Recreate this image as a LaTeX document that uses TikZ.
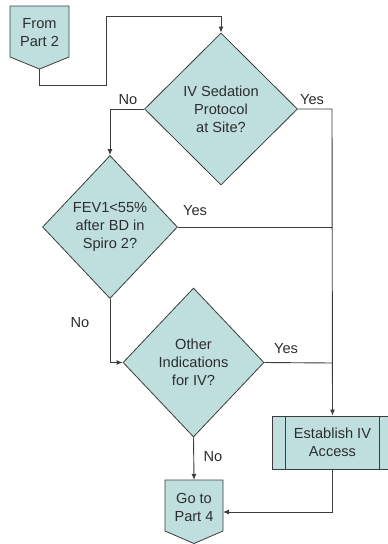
\documentclass[tikz,border=0pt]{standalone}
\usepackage{fontspec}
\setmainfont{Liberation Sans}
\usetikzlibrary{shapes.geometric,arrows.meta}
\definecolor{boxfill}{RGB}{191,223,222}
\definecolor{edgecol}{RGB}{60,60,60}
\definecolor{txtcol}{RGB}{45,45,45}
\tikzset{
  every node/.style={text=txtcol,font=\fontsize{14.6}{18}\selectfont,align=center},
  decision/.style={diamond,draw=edgecol,fill=boxfill,line width=0.8pt,inner sep=0pt},
  shapeline/.style={draw=edgecol,fill=boxfill,line width=0.8pt},
  flow/.style={draw=edgecol,line width=0.9pt},
  arrowflow/.style={flow,-{Latex[length=6pt,width=5pt]}},
  lbl/.style={inner sep=0pt}
}
\begin{document}
\begin{tikzpicture}[x=1pt,y=-1pt]
\useasboundingbox (0,0) rectangle (388,544);

% off-page connector: From Part 2
\path[shapeline] (10,6) -- (69,6) -- (69,57) -- (39.5,69) -- (10,57) -- cycle;
\node (from) at (39.5,33) {From\\Part 2};
\coordinate (fromtip) at (39.5,69);

% decisions
\node[decision,minimum width=153pt,minimum height=152pt] (d1) at (221,109) {IV Sedation\\Protocol\\at Site?};
\node[decision,minimum width=135pt,minimum height=143pt] (d2) at (110,227) {FEV1<55\%\\after BD in\\Spiro 2?};
\node[decision,minimum width=141pt,minimum height=149pt] (d3) at (193.5,362.5) {Other\\Indications\\for IV?};

% predefined process box
\node[shapeline,minimum width=121pt,minimum height=53pt,inner sep=0pt] (est) at (332.5,442.5) {Establish IV\\Access};
\draw[edgecol,line width=0.8pt] ([xshift=14pt]est.north west) -- ([xshift=14pt]est.south west);
\draw[edgecol,line width=0.8pt] ([xshift=-14pt]est.north east) -- ([xshift=-14pt]est.south east);

% off-page connector: Go to Part 4
\path[shapeline] (165,480) -- (223,480) -- (223,531) -- (194,543.5) -- (165,531) -- cycle;
\node (goto) at (194,507.5) {Go to\\Part 4};
\coordinate (gotonorth) at (194,480);
\coordinate (gotoeast) at (223,512);

% junction points on the right-hand trunk
\coordinate (jtop) at (332,109);
\coordinate (jmid) at (332,227);
\coordinate (jlow) at (332,363);

% connectors
\draw[arrowflow] (fromtip) -- (39.5,85) -- (106,85) -- (106,16) -- (221,16) -- (d1.north);
\draw[arrowflow] (d1.west) -- (110,109) -- (d2.north);
\draw[arrowflow] (d1.east) -- (jtop) -- (est.north);
\draw[flow] (d2.east) -- (jmid);
\draw[arrowflow] (d2.south) -- (110,362.5) -- (d3.west);
\draw[flow] (d3.east) -- (jlow);
\draw[arrowflow] (d3.south) -- (gotonorth);
\draw[arrowflow] (est.south) -- (332.5,512) -- (gotoeast);

% branch labels
\node[lbl] (no1) at (128,100) {No};
\node[lbl] (yes1) at (312,100) {Yes};
\node[lbl] (yes2) at (195,211) {Yes};
\node[lbl] (no2) at (80,323) {No};
\node[lbl] (yes3) at (286,349) {Yes};
\node[lbl] (no3) at (213,457) {No};
\end{tikzpicture}
\end{document}
